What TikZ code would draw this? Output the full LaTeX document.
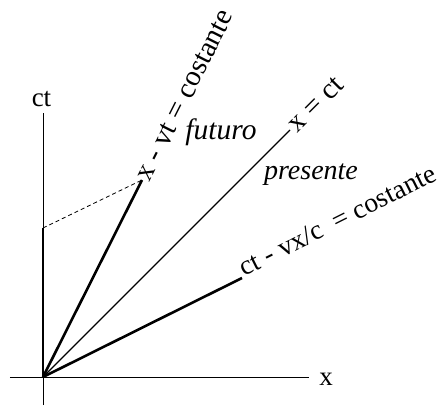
\documentclass[tikz,border=0pt]{standalone}
\usepackage{fontspec}
\setmainfont{Liberation Serif}
\begin{document}
\begin{tikzpicture}[x=1pt,y=1pt,line cap=butt,line join=round,font=\fontsize{27}{32}\selectfont]
  \useasboundingbox (-43,-28) rectangle (400,377);
  % assi
  \coordinate (O) at (0,0);
  \coordinate (Tb) at (0,-28);
  \coordinate (Tt) at (0,264);
  \coordinate (Xl) at (-33,0);
  \coordinate (Xr) at (266,0);
  \draw[line width=1pt] (Tb) -- (Tt);
  \draw[line width=1pt] (Xl) -- (Xr);
  \node (ct) at (-1.5,278) {ct};
  \node (x) at (283,-2) {x};
  % linee di universo
  \coordinate (P) at (0,149);
  \coordinate (A) at (99,197);
  \coordinate (B) at (247,247);
  \coordinate (C) at (199,99);
  \draw[line width=2.6pt] (O) -- (P);
  \draw[line width=2.6pt] (O) -- (A);
  \draw[line width=2.6pt] (O) -- (C);
  \draw[line width=1.2pt] (O) -- (B);
  \draw[dash pattern=on 4pt off 3pt,line width=0.8pt] (P) -- (A);
  \node[rotate=63.3,anchor=west,inner sep=1pt,font=\fontsize{29}{34}\selectfont] (la) at (A) {x - vt = costante};
  \node[rotate=45,anchor=west,inner sep=3pt,font=\fontsize{29}{34}\selectfont] (lb) at (B) {x = ct};
  \node[rotate=26.6,anchor=base west,inner sep=3pt,font=\fontsize{27.5}{32}\selectfont] (lc) at (C) {ct - vx/c \ = costante};
  \node[font=\fontsize{29.5}{34}\selectfont\itshape] (fut) at (178,245) {futuro};
  \node[font=\fontsize{28}{33}\selectfont\itshape] (pres) at (268,202) {presente};
\end{tikzpicture}
\end{document}
